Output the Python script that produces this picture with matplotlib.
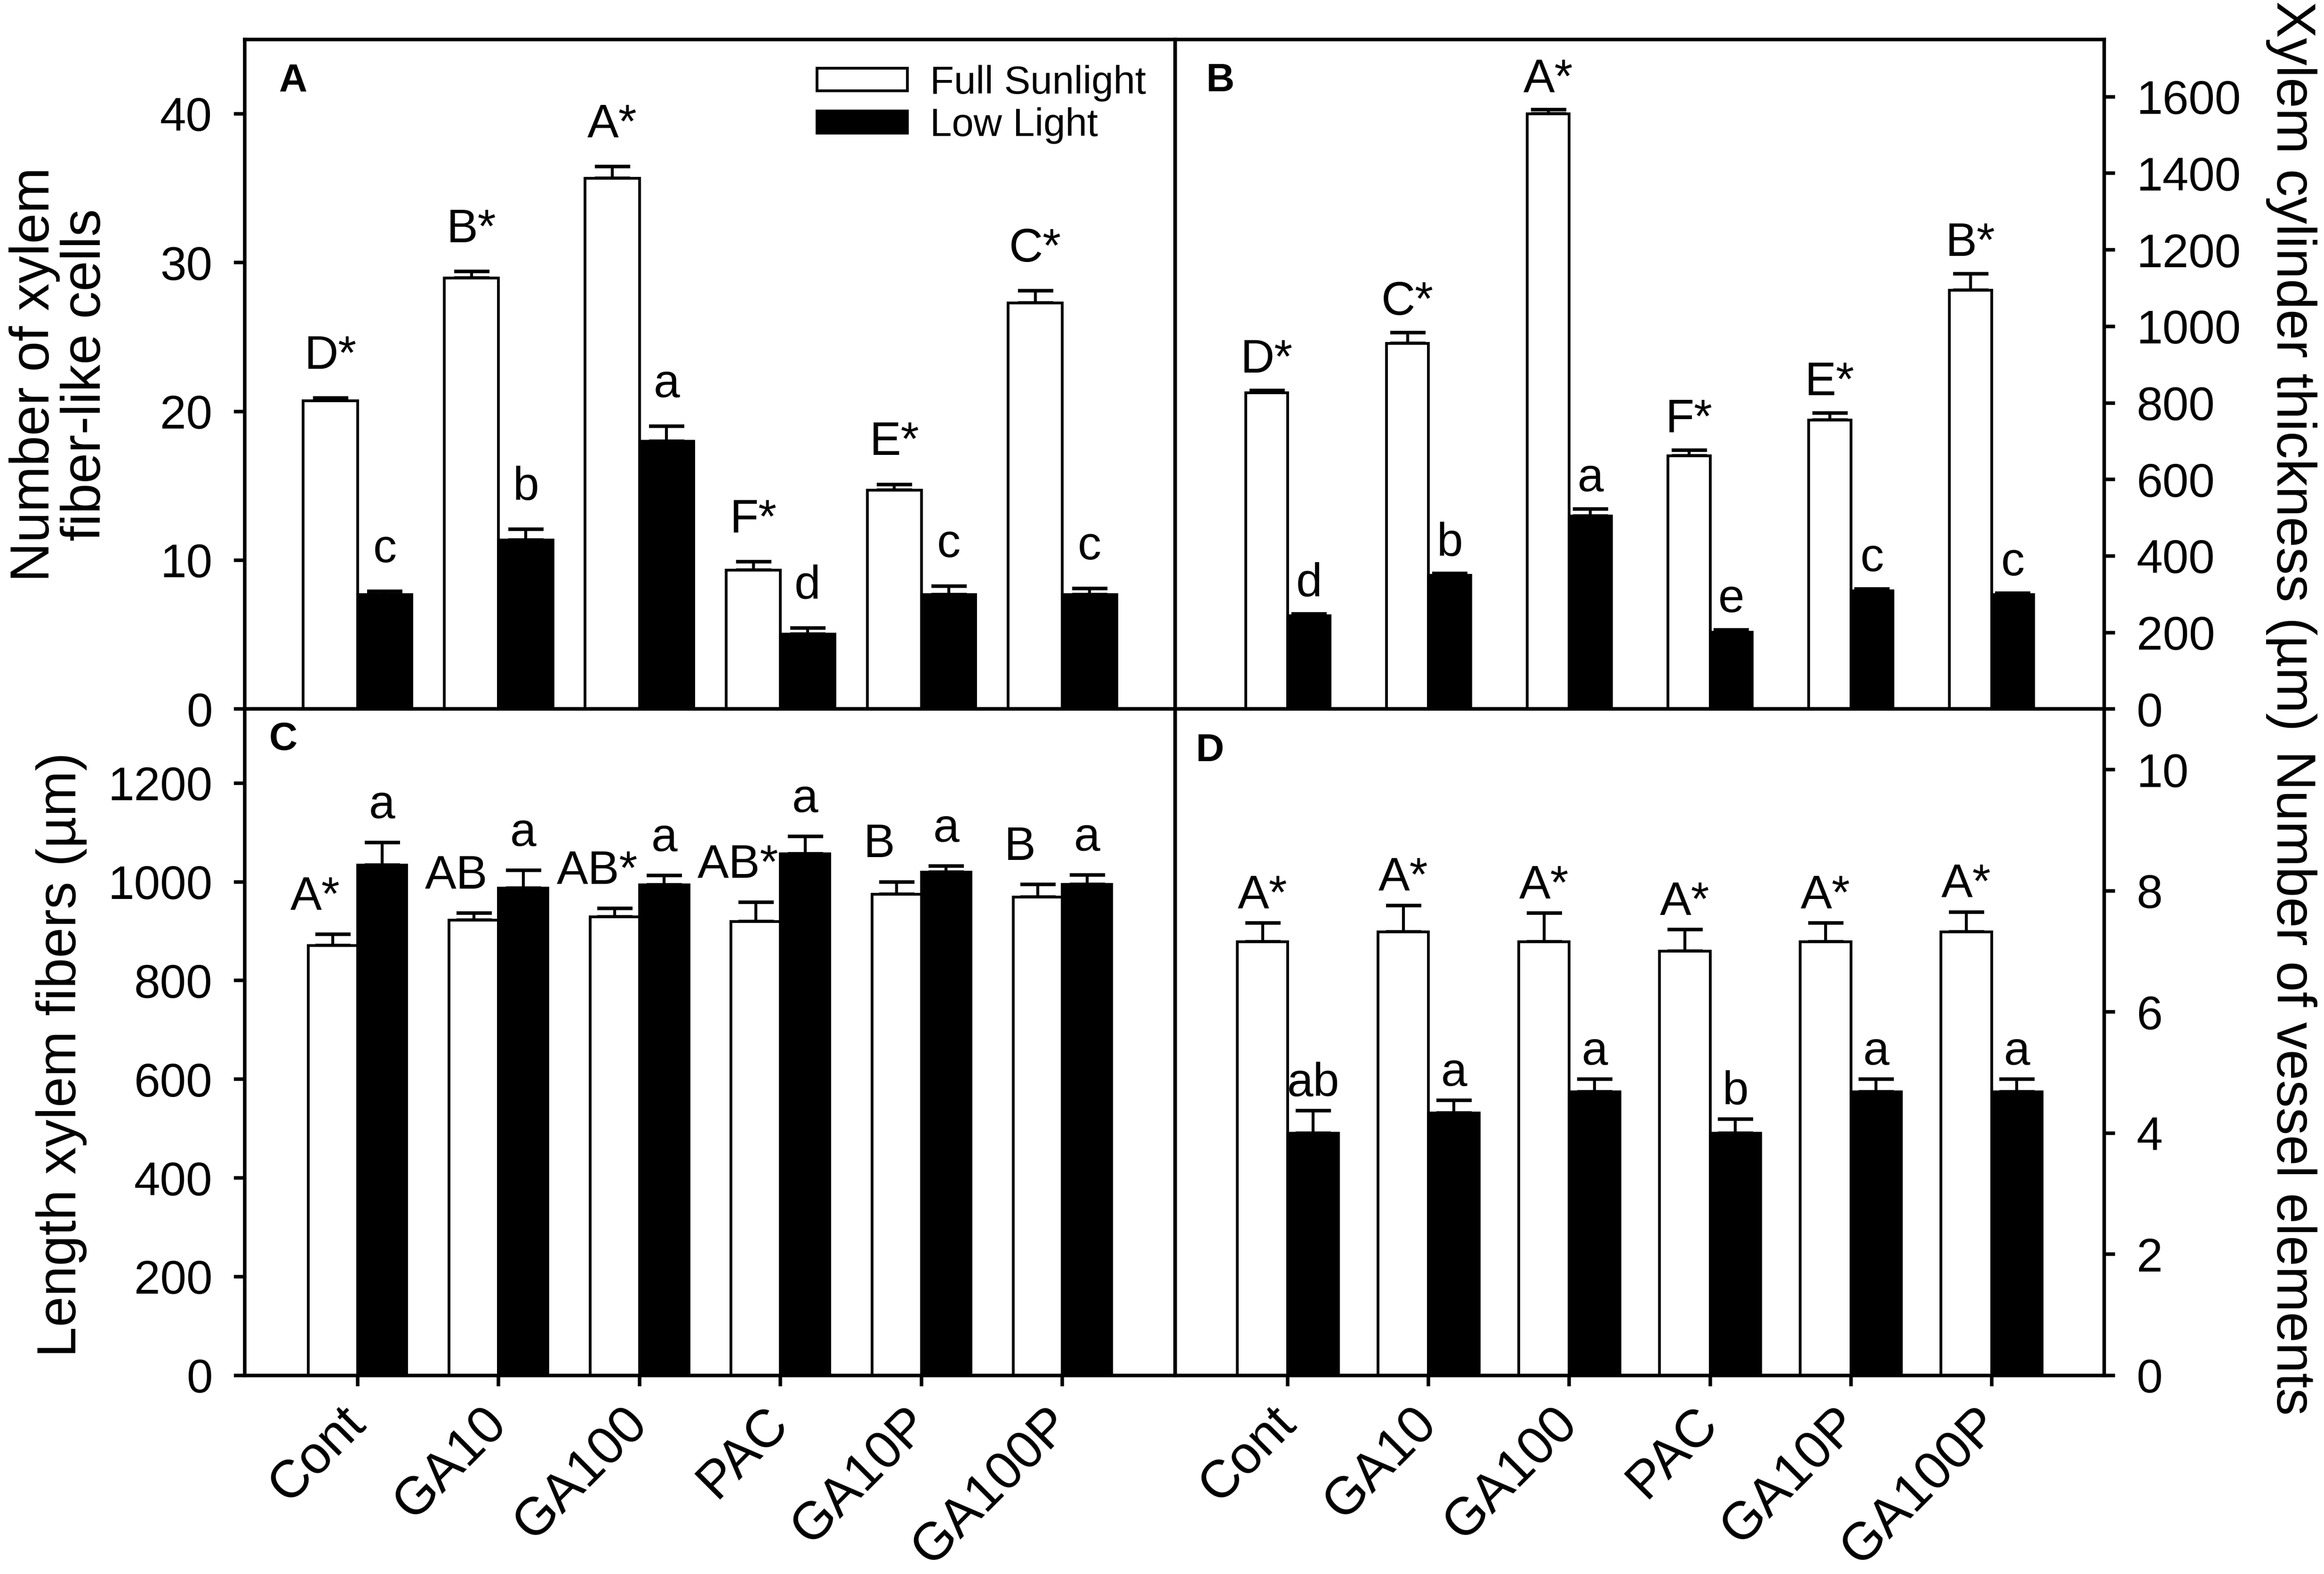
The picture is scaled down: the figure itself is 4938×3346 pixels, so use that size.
import matplotlib
matplotlib.use('Agg')
import matplotlib.pyplot as plt
import matplotlib.transforms as mtransforms
import numpy as np

plt.rcParams['font.family'] = ['Liberation Sans', 'DejaVu Sans']

groups = ['Cont', 'GA10', 'GA100', 'PAC', 'GA10P', 'GA100P']

# panel A - number of xylem fiber-like cells
a_full = [20.7, 28.95, 35.65, 9.35, 14.7, 27.3]
a_full_err = [0.2, 0.45, 0.8, 0.55, 0.4, 0.8]
a_low = [7.7, 11.35, 18.0, 5.05, 7.7, 7.7]
a_low_err = [0.2, 0.75, 1.0, 0.4, 0.55, 0.4]
a_full_lab = ['D*', 'B*', 'A*', 'F*', 'E*', 'C*']
a_low_lab = ['c', 'b', 'a', 'd', 'c', 'c']

# panel B - xylem cylinder thickness (um)
b_full = [827, 955, 1555, 662, 755, 1094]
b_full_err = [6, 29, 11, 15, 19, 44]
b_low = [244, 349, 505, 201, 309, 299]
b_low_err = [5, 5, 18, 6, 5, 4]
b_full_lab = ['D*', 'C*', 'A*', 'F*', 'E*', 'B*']
b_low_lab = ['d', 'b', 'a', 'e', 'c', 'c']

# panel C - length xylem fibers (um)
c_full = [871, 922, 929, 920, 975, 969]
c_full_err = [23, 15, 17, 39, 25, 26]
c_low = [1034, 987, 994, 1057, 1020, 995]
c_low_err = [46, 36, 19, 35, 12, 19]
c_full_lab = ['A*', 'AB', 'AB*', 'AB*', 'B', 'B']
c_low_lab = ['a', 'a', 'a', 'a', 'a', 'a']

# panel D - number of vessel elements
d_full = [7.16, 7.32, 7.16, 7.0, 7.16, 7.32]
d_full_err = [0.31, 0.44, 0.47, 0.36, 0.31, 0.33]
d_low = [4.0, 4.33, 4.68, 4.0, 4.68, 4.68]
d_low_err = [0.37, 0.21, 0.21, 0.23, 0.21, 0.21]
d_full_lab = ['A*', 'A*', 'A*', 'A*', 'A*', 'A*']
d_low_lab = ['ab', 'a', 'a', 'b', 'a', 'a']

fig = plt.figure(figsize=(4938 / 300, 3346 / 300), dpi=300)

LW = 1.8
TICK_FS = 24
ANN_FS = 24
LAB_FS = 28


def panel(rect, full, full_err, low, low_err, full_lab, low_lab, width,
          ymax, yticks, letter, letter_xy, ann_off, full_dx=0, right=False,
          xlabels=False):
    ax = fig.add_axes(rect)
    x = np.arange(1, len(groups) + 1)
    ax.bar(x - width / 2, full, width, color='white', edgecolor='black',
           linewidth=1.4, label='Full Sunlight', zorder=2)
    ax.bar(x + width / 2, low, width, color='black', edgecolor='black',
           linewidth=1.4, label='Low Light', zorder=2)
    ax.errorbar(x - width / 2, full, yerr=[np.zeros(len(full)), full_err],
                fmt='none', ecolor='black', elinewidth=1.5, capsize=9,
                capthick=1.8, zorder=1)
    ax.errorbar(x + width / 2, low, yerr=[np.zeros(len(low)), low_err],
                fmt='none', ecolor='black', elinewidth=1.5, capsize=9,
                capthick=1.8, zorder=1)
    for i in range(len(groups)):
        ax.annotate(full_lab[i], (x[i] - width / 2, full[i] + full_err[i]),
                    xytext=(full_dx, ann_off), textcoords='offset points',
                    ha='center', va='baseline', fontsize=ANN_FS, zorder=4)
        ax.annotate(low_lab[i], (x[i] + width / 2, low[i] + low_err[i]),
                    xytext=(0, ann_off), textcoords='offset points',
                    ha='center', va='baseline', fontsize=ANN_FS, zorder=4)
    ax.set_xlim(0.2, 6.8)
    ax.set_ylim(0, ymax)
    ax.set_yticks(yticks)
    for s in ax.spines.values():
        s.set_linewidth(LW)
    if right:
        ax.yaxis.tick_right()
    ax.tick_params(axis='y', direction='out', length=5.5, width=LW,
                   labelsize=TICK_FS, pad=11)
    if xlabels:
        ax.set_xticks(x)
        ax.set_xticklabels(groups, rotation=45, ha='right',
                           rotation_mode='anchor', fontsize=27)
        ax.tick_params(axis='x', direction='out', length=5.5, width=LW,
                       pad=6)
        shift = mtransforms.ScaledTranslation(-9 / 72, 0, fig.dpi_scale_trans)
        for lab in ax.get_xticklabels():
            lab.set_transform(lab.get_transform() + shift)
    else:
        ax.set_xticks([])
    ax.text(letter_xy[0], letter_xy[1], letter, transform=ax.transAxes,
            ha='left', va='top', fontsize=20, fontweight='bold')
    return ax


axA = panel([0.1053, 0.5495, 0.4004, 0.4255], a_full, a_full_err, a_low,
            a_low_err, a_full_lab, a_low_lab, 0.385, 45,
            [0, 10, 20, 30, 40], 'A', (0.037, 0.965), 15)
axB = panel([0.5057, 0.5495, 0.3997, 0.4255], b_full, b_full_err, b_low,
            b_low_err, b_full_lab, b_low_lab, 0.30, 1750,
            np.arange(0, 1601, 200), 'B', (0.033, 0.965), 9, right=True)
axC = panel([0.1053, 0.1262, 0.4004, 0.4233], c_full, c_full_err, c_low,
            c_low_err, c_full_lab, c_low_lab, 0.35, 1350,
            np.arange(0, 1201, 200), 'C', (0.026, 0.982), 12.5,
            full_dx=-9, xlabels=True)
axD = panel([0.5057, 0.1262, 0.3997, 0.4233], d_full, d_full_err, d_low,
            d_low_err, d_full_lab, d_low_lab, 0.36, 11,
            np.arange(0, 11, 2), 'D', (0.022, 0.965), 7.5, right=True,
            xlabels=True)

axA.legend(loc='upper left', bbox_to_anchor=(0.615, 0.962), frameon=False,
           fontsize=20, handlelength=2.3, handleheight=0.5,
           labelspacing=0.15, handletextpad=0.58, borderpad=0,
           borderaxespad=0)

fig.text(0.026, 0.762, 'Number of xylem\nfiber-like cells', rotation=90,
         ha='center', va='center', fontsize=LAB_FS, linespacing=1.0)
fig.text(0.0265, 0.33, 'Length xylem fibers (\u00b5m)', rotation=90,
         ha='center', va='center', fontsize=LAB_FS)
fig.text(0.986, 0.7675, 'Xylem cylinder thickness (\u00b5m)', rotation=270,
         ha='center', va='center', fontsize=LAB_FS)
fig.text(0.986, 0.312, 'Number of vessel elements', rotation=270,
         ha='center', va='center', fontsize=LAB_FS)

fig.savefig('out.png', dpi=300)
